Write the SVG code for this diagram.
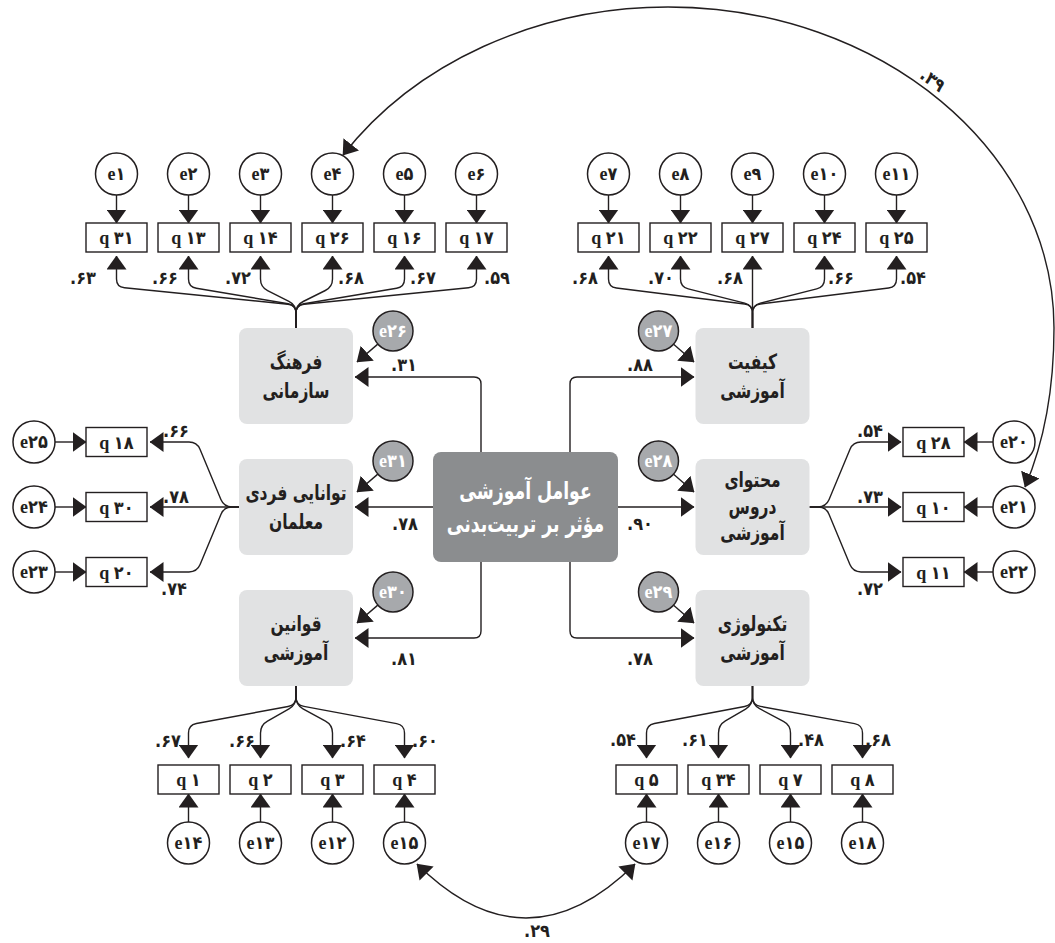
<svg xmlns="http://www.w3.org/2000/svg" width="1055" height="943" viewBox="0 0 1055 943">
<defs>
<style>
.ln{fill:none;stroke:#231f20;stroke-width:1.4}
.ar{marker-end:url(#ah)}
.ar2{marker-start:url(#ah);marker-end:url(#ah)}
.c{fill:#fff;stroke:#231f20;stroke-width:1.5}
.cg{fill:#a7a9ac;stroke:#231f20;stroke-width:1.5}
.bx{fill:#fff;stroke:#231f20;stroke-width:1.4}
.lat{fill:#e1e2e3}
.cen{fill:#8b8d8f}
.t{font-family:"Liberation Serif","DejaVu Sans Condensed","DejaVu Sans",serif;font-weight:bold;font-size:18px;fill:#231f20;text-anchor:middle}
.tw{fill:#fff}
.n{font-family:"DejaVu Sans Condensed","DejaVu Sans",sans-serif;font-weight:bold;font-size:18px;fill:#231f20}
.m{text-anchor:middle}
.e{text-anchor:end}
.fa{font-family:"DejaVu Sans Condensed","DejaVu Sans",sans-serif;font-weight:bold;font-size:21px;fill:#231f20;text-anchor:middle}
.fw{fill:#fff;font-size:24px}
</style>
<marker id="ah" viewBox="0 0 14 20" refX="13.5" refY="10" markerWidth="14" markerHeight="20" markerUnits="userSpaceOnUse" orient="auto-start-reverse"><path d="M0,0 L14,10 L0,20 Z" fill="#231f20"/></marker>
</defs>
<rect width="1055" height="943" fill="#fff"/>

<g id="connectors">
<path class="ln ar" d="M116.5,195V223"/><path class="ln ar" d="M188.5,195V223"/>
<path class="ln ar" d="M260.5,195V223"/><path class="ln ar" d="M332.5,195V223"/>
<path class="ln ar" d="M404.5,195V223"/><path class="ln ar" d="M476.5,195V223"/>
<path class="ln ar" d="M608.5,195V223"/><path class="ln ar" d="M680.5,195V223"/>
<path class="ln ar" d="M752.5,195V223"/><path class="ln ar" d="M824.5,195V223"/>
<path class="ln ar" d="M896.5,195V223"/>
<path class="ln ar" d="M55,442H86"/><path class="ln ar" d="M55,507H86"/><path class="ln ar" d="M55,572H86"/>
<path class="ln ar" d="M993,442H964"/><path class="ln ar" d="M993,507H964"/><path class="ln ar" d="M993,572H964"/>
<path class="ln ar" d="M188.5,822V794"/><path class="ln ar" d="M260.5,822V794"/>
<path class="ln ar" d="M332.5,822V794"/><path class="ln ar" d="M404.5,822V794"/>
<path class="ln ar" d="M646.5,822V794"/><path class="ln ar" d="M718.5,822V794"/>
<path class="ln ar" d="M790.5,822V794"/><path class="ln ar" d="M862.5,822V794"/>

<path class="ln ar" d="M296,328V313Q296,305 288,304.2L124.5,287.8Q116.5,287 116.5,279V256"/>
<path class="ln ar" d="M296,328V313Q296,305 288.1,303.7L196.4,288.3Q188.5,287 188.5,279V256"/>
<path class="ln ar" d="M296,328V313Q296,305 288.9,301.4L267.6,290.6Q260.5,287 260.5,279V256"/>
<path class="ln ar" d="M296,328V313Q296,305 303.2,301.5L325.3,290.5Q332.5,287 332.5,279V256"/>
<path class="ln ar" d="M296,328V313Q296,305 303.9,303.7L396.6,288.3Q404.5,287 404.5,279V256"/>
<path class="ln ar" d="M296,328V313Q296,305 304,304.2L468.5,287.8Q476.5,287 476.5,279V256"/>
<path class="ln ar" d="M752.5,328V313Q752.5,305 744.6,304L616.4,288Q608.5,287 608.5,279V256"/>
<path class="ln ar" d="M752.5,328V313Q752.5,305 744.7,303.1L688.3,288.9Q680.5,287 680.5,279V256"/>
<path class="ln ar" d="M752.5,328V256"/>
<path class="ln ar" d="M752.5,328V313Q752.5,305 760.3,303.1L816.7,288.9Q824.5,287 824.5,279V256"/>
<path class="ln ar" d="M752.5,328V313Q752.5,305 760.4,304L888.6,288Q896.5,287 896.5,279V256"/>
<path class="ln ar" d="M239,507H232Q224,507 220.9,499.6L200.1,449.4Q197,442 189,442H150"/>
<path class="ln ar" d="M239,507H150"/>
<path class="ln ar" d="M239,507H232Q224,507 220.9,514.4L200.1,564.6Q197,572 189,572H150"/>
<path class="ln ar" d="M809.5,507H818Q826,507 829.1,499.6L849.9,449.4Q853,442 861,442H901"/>
<path class="ln ar" d="M809.5,507H901"/>
<path class="ln ar" d="M809.5,507H818Q826,507 829.1,514.4L849.9,564.6Q853,572 861,572H901"/>
<path class="ln ar" d="M296,686V697Q296,705 288.1,706.5L196.4,723.5Q188.5,725 188.5,733V758"/>
<path class="ln ar" d="M296,686V697Q296,705 289,708.9L267.5,721.1Q260.5,725 260.5,733V758"/>
<path class="ln ar" d="M296,686V697Q296,705 303,708.8L325.5,721.2Q332.5,725 332.5,733V758"/>
<path class="ln ar" d="M296,686V697Q296,705 303.9,706.4L396.6,723.6Q404.5,725 404.5,733V758"/>
<path class="ln ar" d="M752.5,686V697Q752.5,705 744.6,706.5L654.4,723.5Q646.5,725 646.5,733V758"/>
<path class="ln ar" d="M752.5,686V697Q752.5,705 745.6,709.1L725.4,720.9Q718.5,725 718.5,733V758"/>
<path class="ln ar" d="M752.5,686V697Q752.5,705 759.6,708.7L783.4,721.3Q790.5,725 790.5,733V758"/>
<path class="ln ar" d="M752.5,686V697Q752.5,705 760.4,706.4L854.6,723.6Q862.5,725 862.5,733V758"/>

<path class="ln ar" d="M481,452V384Q481,377 474,377H355"/>
<path class="ln ar" d="M570,452V384Q570,377 577,377H694"/>
<path class="ln ar" d="M433,507H355"/>
<path class="ln ar" d="M618,507H694"/>
<path class="ln ar" d="M481,562V631Q481,638 474,638H355"/>
<path class="ln ar" d="M570,562V631Q570,638 577,638H694"/>
<path class="ln ar" d="M377.8,344.1L357,362"/>
<path class="ln ar" d="M673.6,344.2L694,362"/>
<path class="ln ar" d="M377.8,474.1L357,492"/>
<path class="ln ar" d="M673.6,474.2L694,492"/>
<path class="ln ar" d="M377.8,605.1L357,623"/>
<path class="ln ar" d="M673.6,605.2L694,623"/>

<path class="ln ar2" d="M343,155C415,63 537,7 668,7C881,7 1054,151 1054,328C1054,390 1045,440 1025,487"/>
<path class="ln ar2" d="M417,864Q526,972 635,864"/>

<g class="n">
<text class="e" x="96" y="284">.۶۳</text>
<text class="e" x="178" y="284">.۶۶</text>
<text class="e" x="251" y="284">.۷۲</text>
<text x="338" y="284">.۶۸</text>
<text x="410" y="284">.۶۷</text>
<text x="484" y="284">.۵۹</text>
<text class="e" x="598" y="284">.۶۸</text>
<text class="e" x="674" y="284">.۷۰</text>
<text class="e" x="743" y="284">.۶۸</text>
<text x="828" y="284">.۶۶</text>
<text x="900" y="284">.۵۴</text>
<text x="163" y="437">.۶۶</text>
<text x="163" y="503">.۷۸</text>
<text x="161" y="595">.۷۴</text>
<text x="857" y="437">.۵۴</text>
<text x="857" y="503">.۷۳</text>
<text x="857" y="595">.۷۲</text>
<text class="e" x="181" y="747">.۶۷</text>
<text class="e" x="255" y="747">.۶۶</text>
<text x="340" y="747">.۶۴</text>
<text x="412" y="747">.۶۰</text>
<text class="e" x="636" y="746">.۵۴</text>
<text class="e" x="708" y="746">.۶۱</text>
<text x="798" y="746">.۴۸</text>
<text x="865" y="746">.۶۸</text>
<text class="m" x="404" y="371">.۳۱</text>
<text class="m" x="640" y="371">.۸۸</text>
<text class="m" x="405" y="530">.۷۸</text>
<text class="m" x="640" y="530">.۹۰</text>
<text class="m" x="404" y="665">.۸۱</text>
<text class="m" x="640" y="665">.۷۸</text>
<text class="m" x="537" y="937">.۲۹</text>
<text class="m" x="0" y="0" transform="translate(929,85) rotate(37)">.۳۹</text>
</g>
</g>

<g id="central"><rect class="cen" x="433" y="452" width="185" height="110" rx="8"/>
<text class="fa fw" transform="translate(525.5,499) scale(0.8,1)">عوامل آموزشی</text>
<text class="fa fw" transform="translate(525.5,532) scale(0.8,1)">مؤثر بر تربیت‌بدنی</text></g>

<g id="farhang"><rect class="lat" x="239" y="328" width="114" height="96" rx="8"/>
<text class="fa" transform="translate(296,369) scale(0.82,1)">فرهنگ</text><text class="fa" transform="translate(296,398) scale(0.82,1)">سازمانی</text></g>
<g id="keyfiyat"><rect class="lat" x="695.5" y="328" width="114" height="96" rx="8"/>
<text class="fa" transform="translate(752.5,369) scale(0.82,1)">کیفیت</text><text class="fa" transform="translate(752.5,398) scale(0.82,1)">آموزشی</text></g>
<g id="tavanaei"><rect class="lat" x="239" y="459" width="114" height="96" rx="8"/>
<text class="fa" transform="translate(296,500) scale(0.82,1)">توانایی فردی</text><text class="fa" transform="translate(296,529) scale(0.82,1)">معلمان</text></g>
<g id="mohtava"><rect class="lat" x="695.5" y="459" width="114" height="96" rx="8"/>
<text class="fa" transform="translate(752.5,487) scale(0.82,1)">محتوای</text><text class="fa" transform="translate(752.5,514) scale(0.82,1)">دروس</text><text class="fa" transform="translate(752.5,540) scale(0.82,1)">آموزشی</text></g>
<g id="ghavanin"><rect class="lat" x="239" y="590" width="114" height="96" rx="8"/>
<text class="fa" transform="translate(296,631) scale(0.82,1)">قوانین</text><text class="fa" transform="translate(296,660) scale(0.82,1)">آموزشی</text></g>
<g id="technology"><rect class="lat" x="695.5" y="590" width="114" height="96" rx="8"/>
<text class="fa" transform="translate(752.5,631) scale(0.82,1)">تکنولوژی</text><text class="fa" transform="translate(752.5,660) scale(0.82,1)">آموزشی</text></g>

<g id="e26"><circle class="cg" cx="393" cy="331" r="20"/><text class="t tw" x="393" y="337">e۲۶</text></g>
<g id="e27"><circle class="cg" cx="658.5" cy="331" r="20"/><text class="t tw" x="658.5" y="337">e۲۷</text></g>
<g id="e31"><circle class="cg" cx="393" cy="461" r="20"/><text class="t tw" x="393" y="467">e۳۱</text></g>
<g id="e28"><circle class="cg" cx="658.5" cy="461" r="20"/><text class="t tw" x="658.5" y="467">e۲۸</text></g>
<g id="e30"><circle class="cg" cx="393" cy="592" r="20"/><text class="t tw" x="393" y="598">e۳۰</text></g>
<g id="e29"><circle class="cg" cx="658.5" cy="592" r="20"/><text class="t tw" x="658.5" y="598">e۲۹</text></g>

<g id="e1"><circle class="c" cx="116.5" cy="174" r="21"/><text class="t" x="116.5" y="180">e۱</text></g>
<g id="e2"><circle class="c" cx="188.5" cy="174" r="21"/><text class="t" x="188.5" y="180">e۲</text></g>
<g id="e3"><circle class="c" cx="260.5" cy="174" r="21"/><text class="t" x="260.5" y="180">e۳</text></g>
<g id="e4"><circle class="c" cx="332.5" cy="174" r="21"/><text class="t" x="332.5" y="180">e۴</text></g>
<g id="e5"><circle class="c" cx="404.5" cy="174" r="21"/><text class="t" x="404.5" y="180">e۵</text></g>
<g id="e6"><circle class="c" cx="476.5" cy="174" r="21"/><text class="t" x="476.5" y="180">e۶</text></g>
<g id="q31"><rect class="bx" x="86" y="223" width="61" height="29"/><text class="t" x="116.5" y="244">q ۳۱</text></g>
<g id="q13"><rect class="bx" x="158" y="223" width="61" height="29"/><text class="t" x="188.5" y="244">q ۱۳</text></g>
<g id="q14"><rect class="bx" x="230" y="223" width="61" height="29"/><text class="t" x="260.5" y="244">q ۱۴</text></g>
<g id="q26"><rect class="bx" x="302" y="223" width="61" height="29"/><text class="t" x="332.5" y="244">q ۲۶</text></g>
<g id="q16"><rect class="bx" x="374" y="223" width="61" height="29"/><text class="t" x="404.5" y="244">q ۱۶</text></g>
<g id="q17"><rect class="bx" x="446" y="223" width="61" height="29"/><text class="t" x="476.5" y="244">q ۱۷</text></g>

<g id="e7"><circle class="c" cx="608.5" cy="174" r="21"/><text class="t" x="608.5" y="180">e۷</text></g>
<g id="e8"><circle class="c" cx="680.5" cy="174" r="21"/><text class="t" x="680.5" y="180">e۸</text></g>
<g id="e9"><circle class="c" cx="752.5" cy="174" r="21"/><text class="t" x="752.5" y="180">e۹</text></g>
<g id="e10"><circle class="c" cx="824.5" cy="174" r="21"/><text class="t" x="824.5" y="180">e۱۰</text></g>
<g id="e11"><circle class="c" cx="896.5" cy="174" r="21"/><text class="t" x="896.5" y="180">e۱۱</text></g>
<g id="q21"><rect class="bx" x="578" y="223" width="61" height="29"/><text class="t" x="608.5" y="244">q ۲۱</text></g>
<g id="q22"><rect class="bx" x="650" y="223" width="61" height="29"/><text class="t" x="680.5" y="244">q ۲۲</text></g>
<g id="q27"><rect class="bx" x="722" y="223" width="61" height="29"/><text class="t" x="752.5" y="244">q ۲۷</text></g>
<g id="q24"><rect class="bx" x="794" y="223" width="61" height="29"/><text class="t" x="824.5" y="244">q ۲۴</text></g>
<g id="q25"><rect class="bx" x="866" y="223" width="61" height="29"/><text class="t" x="896.5" y="244">q ۲۵</text></g>

<g id="e25"><circle class="c" cx="34" cy="442" r="21"/><text class="t" x="34" y="448">e۲۵</text></g>
<g id="e24"><circle class="c" cx="34" cy="507" r="21"/><text class="t" x="34" y="513">e۲۴</text></g>
<g id="e23"><circle class="c" cx="34" cy="572" r="21"/><text class="t" x="34" y="578">e۲۳</text></g>
<g id="q18"><rect class="bx" x="86" y="427.5" width="61" height="29"/><text class="t" x="116.5" y="448.5">q ۱۸</text></g>
<g id="q30"><rect class="bx" x="86" y="492.5" width="61" height="29"/><text class="t" x="116.5" y="513.5">q ۳۰</text></g>
<g id="q20"><rect class="bx" x="86" y="557.5" width="61" height="29"/><text class="t" x="116.5" y="578.5">q ۲۰</text></g>

<g id="e20"><circle class="c" cx="1014" cy="442" r="21"/><text class="t" x="1014" y="448">e۲۰</text></g>
<g id="e21"><circle class="c" cx="1014" cy="507" r="21"/><text class="t" x="1014" y="513">e۲۱</text></g>
<g id="e22"><circle class="c" cx="1014" cy="572" r="21"/><text class="t" x="1014" y="578">e۲۲</text></g>
<g id="q28"><rect class="bx" x="903" y="427.5" width="61" height="29"/><text class="t" x="933.5" y="448.5">q ۲۸</text></g>
<g id="q10"><rect class="bx" x="903" y="492.5" width="61" height="29"/><text class="t" x="933.5" y="513.5">q ۱۰</text></g>
<g id="q11"><rect class="bx" x="903" y="557.5" width="61" height="29"/><text class="t" x="933.5" y="578.5">q ۱۱</text></g>

<g id="q1"><rect class="bx" x="158" y="765" width="61" height="29"/><text class="t" x="188.5" y="786">q ۱</text></g>
<g id="q2"><rect class="bx" x="230" y="765" width="61" height="29"/><text class="t" x="260.5" y="786">q ۲</text></g>
<g id="q3"><rect class="bx" x="302" y="765" width="61" height="29"/><text class="t" x="332.5" y="786">q ۳</text></g>
<g id="q4"><rect class="bx" x="374" y="765" width="61" height="29"/><text class="t" x="404.5" y="786">q ۴</text></g>
<g id="e14"><circle class="c" cx="188.5" cy="843" r="21"/><text class="t" x="188.5" y="849">e۱۴</text></g>
<g id="e13"><circle class="c" cx="260.5" cy="843" r="21"/><text class="t" x="260.5" y="849">e۱۳</text></g>
<g id="e12"><circle class="c" cx="332.5" cy="843" r="21"/><text class="t" x="332.5" y="849">e۱۲</text></g>
<g id="e15a"><circle class="c" cx="404.5" cy="843" r="21"/><text class="t" x="404.5" y="849">e۱۵</text></g>

<g id="q5"><rect class="bx" x="616" y="765" width="61" height="29"/><text class="t" x="646.5" y="786">q ۵</text></g>
<g id="q34"><rect class="bx" x="688" y="765" width="61" height="29"/><text class="t" x="718.5" y="786">q ۳۴</text></g>
<g id="q7"><rect class="bx" x="760" y="765" width="61" height="29"/><text class="t" x="790.5" y="786">q ۷</text></g>
<g id="q8"><rect class="bx" x="832" y="765" width="61" height="29"/><text class="t" x="862.5" y="786">q ۸</text></g>
<g id="e17"><circle class="c" cx="646.5" cy="843" r="21"/><text class="t" x="646.5" y="849">e۱۷</text></g>
<g id="e16"><circle class="c" cx="718.5" cy="843" r="21"/><text class="t" x="718.5" y="849">e۱۶</text></g>
<g id="e15b"><circle class="c" cx="790.5" cy="843" r="21"/><text class="t" x="790.5" y="849">e۱۵</text></g>
<g id="e18"><circle class="c" cx="862.5" cy="843" r="21"/><text class="t" x="862.5" y="849">e۱۸</text></g>
</svg>
